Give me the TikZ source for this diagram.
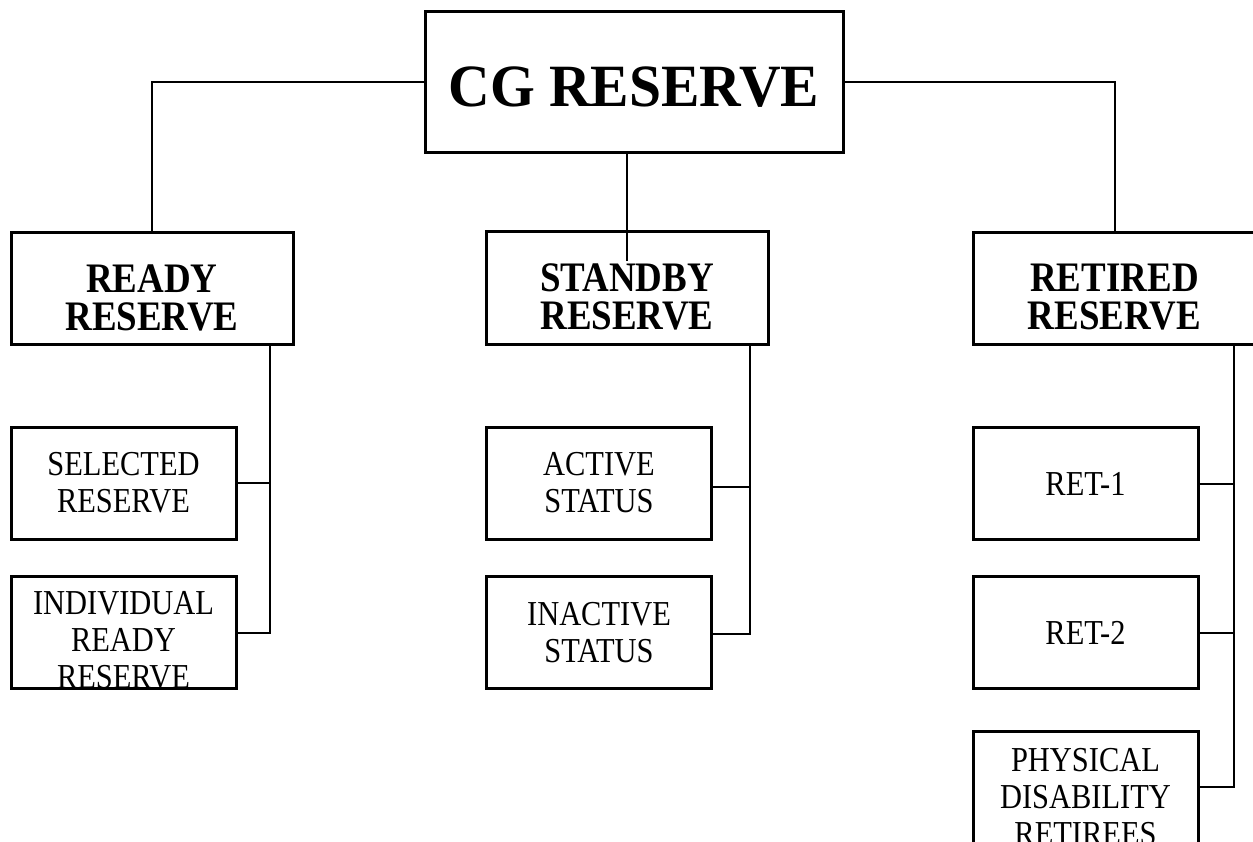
\documentclass[tikz,border=0pt]{standalone}
\usepackage{fontspec}
\setmainfont{Liberation Serif}
\newfontfamily\headfont[FakeStretch=0.88]{Liberation Serif}
\newfontfamily\subfont[FakeStretch=0.87]{Liberation Serif}
\newfontfamily\topfont[FakeStretch=0.96]{Liberation Serif}
\begin{document}
\begin{tikzpicture}[x=1pt,y=-1pt,
		topbox/.style={draw, line width=3pt, minimum width=418pt, minimum height=141pt},
		mainbox/.style={draw, line width=3pt, minimum width=282pt, minimum height=112pt},
		subbox/.style={draw, line width=3pt, minimum width=225pt, minimum height=112pt, align=center, font=\subfont\fontsize{35}{37}\selectfont},
		toplbl/.style={font=\topfont\fontsize{60}{62}\selectfont\bfseries},
		headlbl/.style={align=center, font=\headfont\fontsize{42}{38}\selectfont\bfseries},
		sublbl/.style={align=center, font=\subfont\fontsize{35}{37}\selectfont},
		link/.style={line width=2pt}]
		\tikzstyle{every node}+=[inner sep=0pt]
		\useasboundingbox (0,0) rectangle (1253,842);
		\node [topbox] (cg) at (634,82.5) {};
		\node [toplbl] (cgtxt) at ([yshift=-5pt]cg.center) {CG RESERVE};
		\node [mainbox] (ready) at (152,288.5) {};
		\node [headlbl] (readytxt) at ([yshift=-9pt]ready.center) {READY\\RESERVE};
		\node [mainbox] (standby) at (627,288) {};
		\node [headlbl] (standbytxt) at ([yshift=-9pt]standby.center) {STANDBY\\RESERVE};
		\node [mainbox] (retired) at (1114.5,288.5) {};
		\node [headlbl] (retiredtxt) at ([yshift=-9pt]retired.center) {RETIRED\\RESERVE};
		\node [subbox] (sel) at (123.5,483) {SELECTED\\RESERVE};
		\node [subbox, path picture={\node [sublbl] at ([yshift=-8pt]path picture bounding box.center) {INDIVIDUAL\\READY\\RESERVE};}] (irr) at (123.5,632.5) {};
		\node [subbox] (act) at (599,483) {ACTIVE\\STATUS};
		\node [subbox] (inact) at (599,632.5) {INACTIVE\\STATUS};
		\node [subbox] (ret1) at (1085.5,483.5) {RET-1};
		\node [subbox] (ret2) at (1085.5,632.5) {RET-2};
		\node [subbox, path picture={\node [sublbl] at ([yshift=-10pt]path picture bounding box.center) {PHYSICAL\\DISABILITY\\RETIREES};}] (pdr) at (1085.5,787) {};
		\coordinate (readybus) at ([xshift=-25pt]ready.south east);
		\coordinate (standbybus) at ([xshift=-20pt]standby.south east);
		\coordinate (retiredbus) at ([xshift=-23pt]retired.south east);
		\draw [link] (cg.west) -| (ready.north);
		\draw [link] (cg.east) -| (retired.north);
		\draw [link] (standby.north |- cg.south) -- ([yshift=-31pt]standby.north);
		\draw [link] (readybus) |- (irr.east);
		\draw [link] (sel.east) -- (sel.east -| readybus);
		\draw [link] (standbybus) |- ([yshift=-1pt]inact.east);
		\draw [link] ([yshift=-4pt]act.east) -- ([yshift=-4pt]act.east -| standbybus);
		\draw [link] (retiredbus) |- (pdr.east);
		\draw [link] (ret1.east) -- (ret1.east -| retiredbus);
		\draw [link] (ret2.east) -- (ret2.east -| retiredbus);
	\end{tikzpicture}
\end{document}
